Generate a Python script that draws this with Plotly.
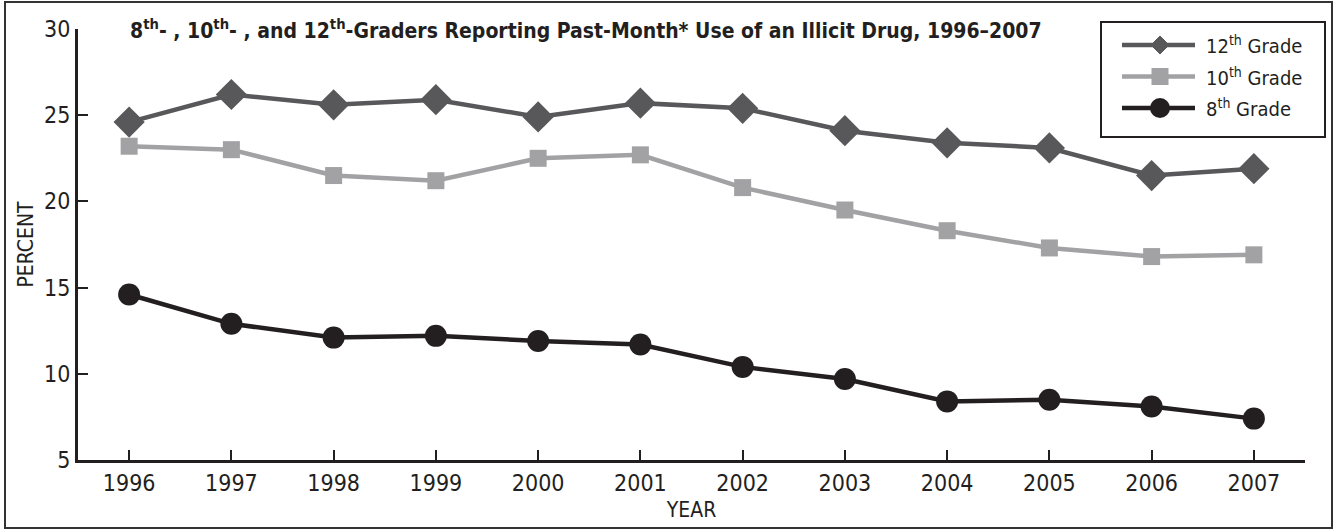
import plotly.graph_objects as go

years = [1996, 1997, 1998, 1999, 2000, 2001, 2002, 2003, 2004, 2005, 2006, 2007]
grade12 = [24.6, 26.2, 25.6, 25.9, 24.9, 25.7, 25.4, 24.1, 23.4, 23.1, 21.5, 21.9]
grade10 = [23.2, 23.0, 21.5, 21.2, 22.5, 22.7, 20.8, 19.5, 18.3, 17.3, 16.8, 16.9]
grade8 = [14.6, 12.9, 12.1, 12.2, 11.9, 11.7, 10.4, 9.7, 8.4, 8.5, 8.1, 7.4]
y_ticks = [5, 10, 15, 20, 25, 30]
series_names = ["12<sup>th</sup> Grade", "10<sup>th</sup> Grade", "8<sup>th</sup> Grade"]

FONT = "Liberation Sans Narrow, DejaVu Sans Condensed, Roboto Condensed, Arial Narrow, Roboto, sans-serif"
C12, C10, C8 = "#58585b", "#a2a2a4", "#231f20"

fig = go.Figure()
fig.add_trace(go.Scatter(
    x=years, y=grade12, name=series_names[0], mode="lines+markers",
    line=dict(color=C12, width=4.5),
    marker=dict(symbol="diamond", size=24, color=C12)))
fig.add_trace(go.Scatter(
    x=years, y=grade10, name=series_names[1], mode="lines+markers",
    line=dict(color=C10, width=4.5),
    marker=dict(symbol="square", size=17, color=C10)))
fig.add_trace(go.Scatter(
    x=years, y=grade8, name=series_names[2], mode="lines+markers",
    line=dict(color=C8, width=4.5),
    marker=dict(symbol="circle", size=22, color=C8)))

L, R, T, B = 78, 32, 29, 71
W, H = 1337, 531
pw, ph = W - L - R, H - T - B

def px(x):
    return (x - L) / pw

def py(y):
    return (H - B - y) / ph

shapes = [dict(
    type="rect", xref="paper", yref="paper",
    x0=px(5), x1=px(1332), y0=py(528), y1=py(2),
    line=dict(color="#333333", width=2), fillcolor="rgba(0,0,0,0)", layer="below")]
# legend box
shapes.append(dict(type="rect", xref="paper", yref="paper",
                   x0=px(1101), x1=px(1325), y0=py(137), y1=py(22),
                   line=dict(color=C8, width=2), fillcolor="white"))
annotations = [dict(
    text="<b>8<sup>th</sup>- , 10<sup>th</sup>- , and 12<sup>th</sup>-Graders Reporting Past-Month* Use of an Illicit Drug, 1996–2007</b>",
    xref="paper", yref="paper", x=px(586), y=py(29), xanchor="center", yanchor="middle",
    showarrow=False, font=dict(size=21, family=FONT, color=C8))]

rows = [45, 76.5, 108]
cols = [C12, C10, C8]
for i, (yy, c) in enumerate(zip(rows, cols)):
    shapes.append(dict(type="line", xref="paper", yref="paper",
                       x0=px(1122), x1=px(1195), y0=py(yy), y1=py(yy),
                       line=dict(color=c, width=4.5)))
    cx = 1160
    if i == 0:
        d = 9
        path = f"M {px(cx - d)} {py(yy)} L {px(cx)} {py(yy - d)} L {px(cx + d)} {py(yy)} L {px(cx)} {py(yy + d)} Z"
        shapes.append(dict(type="path", xref="paper", yref="paper", path=path,
                           fillcolor=c, line=dict(color=c, width=1)))
    elif i == 1:
        d = 8.5
        shapes.append(dict(type="rect", xref="paper", yref="paper",
                           x0=px(cx - d), x1=px(cx + d), y0=py(yy + d), y1=py(yy - d),
                           fillcolor=c, line=dict(color=c, width=0)))
    else:
        d = 10
        shapes.append(dict(type="circle", xref="paper", yref="paper",
                           x0=px(cx - d), x1=px(cx + d), y0=py(yy + d), y1=py(yy - d),
                           fillcolor=c, line=dict(color=c, width=0)))
    annotations.append(dict(text=series_names[i], xref="paper", yref="paper",
                            x=px(1204), y=py(yy), xanchor="left", yanchor="middle",
                            showarrow=False, font=dict(size=20, family=FONT, color=C8)))

fig.update_layout(
    width=W, height=H,
    margin=dict(l=L, r=R, t=T, b=B),
    paper_bgcolor="white", plot_bgcolor="white",
    font=dict(family=FONT, color=C8, size=20),
    showlegend=False,
    xaxis=dict(
        range=[1995.5, 2007.5], tickvals=years, ticktext=[str(y) for y in years],
        showgrid=False, zeroline=False, showline=True, linecolor=C8, linewidth=3,
        ticks="inside", ticklen=10, tickwidth=2, tickcolor=C8,
        tickfont=dict(size=23, family=FONT),
        title=dict(text="YEAR", font=dict(size=21, family=FONT), standoff=8),
    ),
    yaxis=dict(
        range=[5, 30], tickvals=y_ticks,
        showgrid=False, zeroline=False, showline=True, linecolor=C8, linewidth=3,
        ticks="inside", ticklen=10, tickwidth=2, tickcolor=C8,
        tickfont=dict(size=23, family=FONT),
        title=dict(text="PERCENT", font=dict(size=21, family=FONT), standoff=5),
    ),
    shapes=shapes,
    annotations=annotations,
)

fig.write_html("out.html")
